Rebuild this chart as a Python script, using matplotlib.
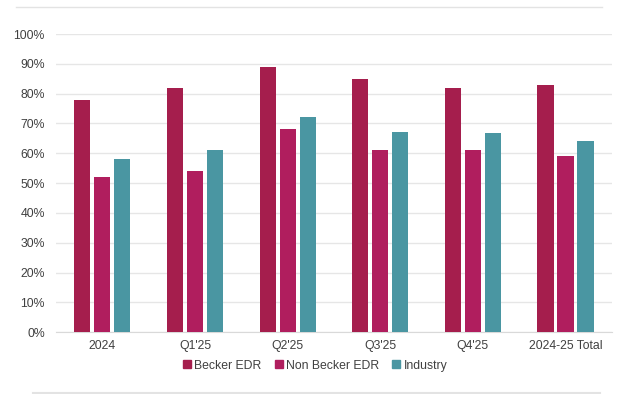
import matplotlib
matplotlib.use("Agg")
import matplotlib.pyplot as plt
import numpy as np
from matplotlib.lines import Line2D

categories = ["2024", "Q1'25", "Q2'25", "Q3'25", "Q4'25", "2024-25 Total"]
becker = [78, 82, 89, 85, 82, 83]
non_becker = [52, 54, 68, 61, 61, 59]
industry = [58, 61, 72, 67, 66.7, 64]
series_names = ["Becker EDR", "Non Becker EDR", "Industry"]
colors = ["#A51E4D", "#B01E5E", "#4A96A2"]
yticks = [0, 10, 20, 30, 40, 50, 60, 70, 80, 90, 100]

plt.rcParams['font.family'] = ['Liberation Sans', 'DejaVu Sans']

fig = plt.figure(figsize=(6.18, 3.94), dpi=100)
ax = fig.add_axes([0.0906, 0.157, 0.8994, 0.7567])

x = np.arange(len(categories))
w = 0.173
step = 0.216
for i, (vals, c) in enumerate(zip([becker, non_becker, industry], colors)):
    ax.bar(x + (i - 1) * step, vals, width=w, color=c, label=series_names[i], zorder=3)

ax.set_xlim(-0.5, len(categories) - 0.5)
ax.set_ylim(0, 100)
ax.set_yticks(yticks)
ax.set_yticklabels([f"{t}%" for t in yticks])
ax.set_xticks(x)
ax.set_xticklabels(categories)
ax.grid(axis='y', color='#E6E6E6', linewidth=1, zorder=0)
ax.set_axisbelow(True)
for s in ['top', 'right', 'left']:
    ax.spines[s].set_visible(False)
ax.spines['bottom'].set_color('#D9D9D9')
ax.tick_params(axis='both', length=0, labelsize=8.8, colors='#404040')
ax.tick_params(axis='y', pad=8)
ax.tick_params(axis='x', pad=6)

handles = [Line2D([0], [0], marker='s', linestyle='none', markersize=5.5,
                  markerfacecolor=c, markeredgecolor=c) for c in colors]
fig.legend(handles, series_names, loc='center', bbox_to_anchor=(0.51, 0.072),
           ncol=3, frameon=False, fontsize=8.8, handlelength=0.6, handletextpad=0.3,
           columnspacing=1.1, labelcolor='#404040')

fig.add_artist(Line2D([16/618, 602/618], [1-7/394, 1-7/394], color='#E3E3E3', linewidth=1))
fig.add_artist(Line2D([33/618, 600/618], [1-393/394, 1-393/394], color='#E3E3E3', linewidth=1.5))

fig.savefig("out.png", dpi=100)
